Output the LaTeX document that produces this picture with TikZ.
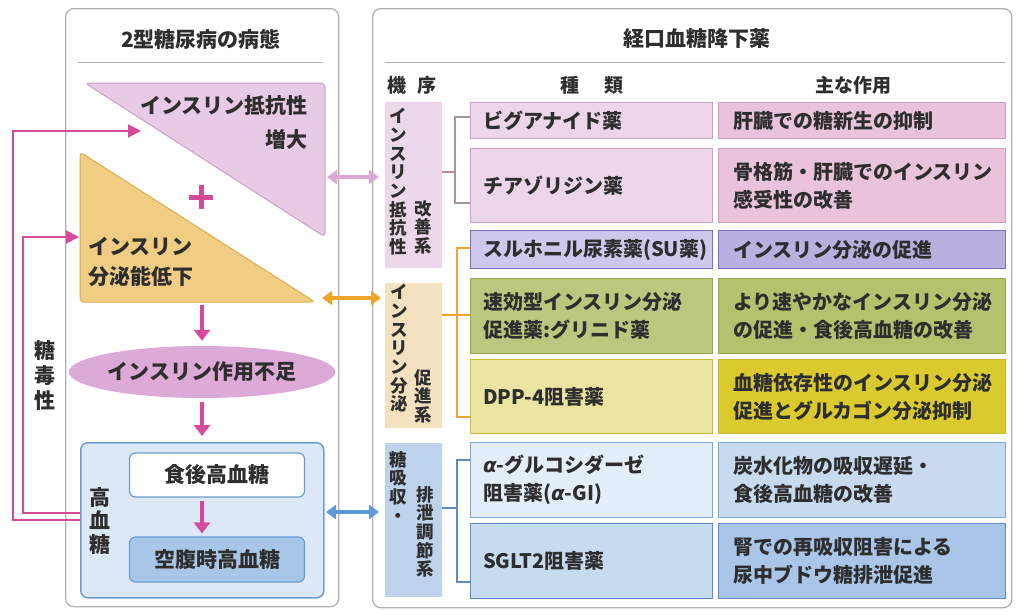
\documentclass[tikz,border=0pt]{standalone}
\usepackage{fontspec}
\setmainfont{Noto Sans CJK JP}
\newfontfamily\grk{DejaVu Sans}
\usetikzlibrary{arrows.meta,shapes.geometric}
\definecolor{panelc}{HTML}{B4AEB0}
\definecolor{mag}{HTML}{D64A9C}
\definecolor{triP}{HTML}{E8CAE4}
\definecolor{triPb}{HTML}{C9A2C6}
\definecolor{triY}{HTML}{F0CD82}
\definecolor{triYb}{HTML}{D9AE4E}
\definecolor{ellc}{HTML}{DDAAD8}
\definecolor{hbF}{HTML}{DCE8F6}
\definecolor{hbB}{HTML}{6C9DD2}
\definecolor{faF}{HTML}{A8C6E8}
\definecolor{mpF}{HTML}{EDD7EA}
\definecolor{mtF}{HTML}{F3E1BF}
\definecolor{mbF}{HTML}{BDD3EC}
\definecolor{pkB}{HTML}{C9A0C3}
\definecolor{pkT}{HTML}{EDD5EA}
\definecolor{pkA}{HTML}{E9C3DC}
\definecolor{suB}{HTML}{7A6FC0}
\definecolor{suT}{HTML}{CEC9EC}
\definecolor{suA}{HTML}{B9B0E0}
\definecolor{glB}{HTML}{94A84C}
\definecolor{glT}{HTML}{B9C87E}
\definecolor{glA}{HTML}{B2C36E}
\definecolor{dpB}{HTML}{C9B938}
\definecolor{dpT}{HTML}{EBE4A0}
\definecolor{dpA}{HTML}{DACA2E}
\definecolor{agB}{HTML}{7EA6D4}
\definecolor{agT}{HTML}{E4EEF9}
\definecolor{agA}{HTML}{C8DAF0}
\definecolor{sgB}{HTML}{5A8CC8}
\definecolor{sgT}{HTML}{C6DAF0}
\definecolor{sgA}{HTML}{A9C5E7}
\definecolor{arP}{HTML}{DDA9D4}
\definecolor{arY}{HTML}{EEA52C}
\definecolor{arB}{HTML}{5E9AD6}
\definecolor{brP}{HTML}{A8949F}
\definecolor{txtc}{HTML}{2E2E2E}
\newcommand\drugrow[8]{%
 \node[tbox, draw=#4, fill=#5, minimum height=#3pt] (t#1) at (470,#2) {};
 \node[abox, draw=#4, fill=#6, minimum height=#3pt] (a#1) at (718,#2) {};
 \node[rtx, anchor=west] (tt#1) at ([xshift=13pt]t#1.west) {#7};
 \node[rtx, anchor=west] (at#1) at ([xshift=15pt]a#1.west) {#8};
}
\begin{document}
\begin{tikzpicture}[x=1pt,y=-1pt,
  every node/.append style={text=txtc},
  panel/.style={draw=panelc, line width=1.3pt, rounded corners=8pt, anchor=north west, inner sep=0pt},
  ttl/.style={font=\fontsize{21}{24}\selectfont\bfseries},
  hdr/.style={font=\fontsize{19}{22}\selectfont\bfseries},
  ltx/.style={font=\fontsize{21}{30}\selectfont\bfseries, inner sep=0pt},
  rtx/.style={font=\fontsize{20}{28}\selectfont\bfseries, align=left, inner sep=0pt},
  tbox/.style={line width=1.4pt, anchor=north west, minimum width=242pt, inner sep=0pt},
  abox/.style={line width=1.4pt, anchor=north west, minimum width=287pt, inner sep=0pt},
  mbox/.style={anchor=north west, minimum width=57pt, inner sep=0pt},
  vt/.style={anchor=north, align=center, inner sep=0pt, font=\fontsize{17.5}{18.7}\selectfont\bfseries},
  marrow/.style={draw=mag, line width=4.5pt, -{Triangle[width=16pt,length=11pt]}},
  fb/.style={draw=mag, line width=2pt, -{Triangle[width=13pt,length=13pt]}},
  dbl/.style={line width=4pt, {Triangle[width=14pt,length=10pt]}-{Triangle[width=14pt,length=10pt]}},
  brk/.style={line width=1.2pt}
]
\useasboundingbox (0,0) rectangle (1017,614);

% ---------- left panel ----------
\node[panel, minimum width=273pt, minimum height=598pt] (lp) at (65,8) {};
\node[ttl] (lt) at (201,39) {2型糖尿病の病態};
\draw[panelc, line width=1pt] (78,62) -- (323,62);

\filldraw[fill=triP, draw=triPb, line width=1pt, rounded corners=4pt] (85,83) -- (325,83) -- (325,237) -- cycle;
\node[ltx, anchor=east] (ir1) at (308,106) {インスリン抵抗性};
\node[ltx, anchor=east] (ir2) at (308,139) {増大};

\filldraw[fill=triY, draw=triYb, line width=1pt, rounded corners=4pt] (80,152) -- (315,302) -- (80,302) -- cycle;
\node[ltx, anchor=west] (is1) at (88,247) {インスリン};
\node[ltx, anchor=west] (is2) at (88,277) {分泌能低下};

\draw[mag, line width=5pt] (189,197) -- (213,197) (201,185) -- (201,209);

\node[ellipse, fill=ellc, minimum width=245pt, minimum height=52pt, ltx] (ell) at (202,372) {インスリン作用不足};
\coordinate (ybot) at (202,305);
\draw[marrow, shorten >=5pt] (ybot) -- (ell.north);

\node[anchor=north west, draw=hbB, fill=hbF, line width=1.5pt, rounded corners=7pt,
      minimum width=243pt, minimum height=155pt, inner sep=0pt] (bb) at (80,442) {};
\draw[marrow, shorten <=4pt, shorten >=6pt] (ell.south) -- (ell.south |- bb.north);

\node[draw=hbB, fill=white, line width=1.2pt, rounded corners=6pt, minimum width=175pt, minimum height=44pt, ltx] (pp) at (217,475) {食後高血糖};
\node[draw=hbB, fill=faF, line width=1.2pt, rounded corners=6pt, minimum width=175pt, minimum height=45pt, ltx] (fa) at (217,559.5) {空腹時高血糖};
\draw[marrow, shorten <=3pt, shorten >=3pt] (pp.south -| ell.south) -- (fa.north -| ell.south);

\node[vt, font=\fontsize{21}{23.5}\selectfont\bfseries] (hg) at (100,487) {高\\血\\糖};

\coordinate (fbo) at (80,520);
\coordinate (fbi) at (80,513);
\coordinate (irin) at (141,131);
\coordinate (isin) at (79,237);
\draw[fb] (fbo) -- (13,520) |- (irin);
\draw[fb] (fbi) -- (23,513) |- (isin);
\node[vt, font=\fontsize{21}{25}\selectfont\bfseries] (tdk) at (45,340) {糖\\毒\\性};

% ---------- right panel ----------
\node[panel, minimum width=639pt, minimum height=599pt] (rp) at (372,8) {};
\node[ttl] (rt) at (697,39) {経口血糖降下薬};
\draw[panelc, line width=1pt] (385,62) -- (1005,62);
\node[hdr] (h1) at (412,85) {機\hspace{0.55em}序};
\node[hdr] (h2) at (592,85) {種\hspace{1.3em}類};
\node[hdr] (h3) at (853,85) {主な作用};

\node[mbox, fill=mpF, minimum height=166pt] (mp) at (385,102) {};
\node[mbox, fill=mtF, minimum height=145pt] (mt) at (385,283) {};
\node[mbox, fill=mbF, minimum height=154pt] (mb) at (385,443) {};

\node[vt] (v1) at (398,108) {イ\\ン\\ス\\リ\\ン\\抵\\抗\\性};
\node[vt] (v2) at (423,200) {改\\善\\系};
\node[vt] (v3) at (399,284) {イ\\ン\\ス\\リ\\ン\\分\\泌};
\node[vt] (v4) at (423,369) {促\\進\\系};
\node[vt] (v5) at (398,451) {糖\\吸\\収\\・};
\node[vt] (v6) at (425,486) {排\\泄\\調\\節\\系};

% brackets (drawn before boxes)
\draw[brk, brP] (mp.east |- 0,172) -- (455,172);
\draw[brk, brP] (470,117) -- (455,117) -- (455,203) -- (470,203);
\draw[brk, arY, line width=1.5pt] (mt.east |- 0,315) -- (470,315);
\draw[brk, arY, line width=1.5pt] (470,248) -- (457,248) -- (457,417) -- (470,417);
\draw[brk, sgB] (mb.east |- 0,508) -- (457,508);
\draw[brk, sgB] (470,460) -- (457,460) -- (457,582) -- (470,582);

\drugrow{1}{102}{36}{pkB}{pkT}{pkA}{ビグアナイド薬}{肝臓での糖新生の抑制}
\drugrow{2}{148}{74}{pkB}{pkT}{pkA}{チアゾリジン薬}{骨格筋・肝臓でのインスリン\\感受性の改善}
\drugrow{3}{230}{38}{suB}{suT}{suA}{スルホニル尿素薬(SU薬)}{インスリン分泌の促進}
\drugrow{4}{278}{75}{glB}{glT}{glA}{速効型インスリン分泌\\促進薬:グリニド薬}{より速やかなインスリン分泌\\の促進・食後高血糖の改善}
\drugrow{5}{359}{74}{dpB}{dpT}{dpA}{DPP-4阻害薬}{血糖依存性のインスリン分泌\\促進とグルカゴン分泌抑制}
\drugrow{6}{442}{75}{agB}{agT}{agA}{{\grk\itshape α}-グルコシダーゼ\\阻害薬({\grk\itshape α}-GI)}{炭水化物の吸収遅延・\\食後高血糖の改善}
\drugrow{7}{523}{75}{sgB}{sgT}{sgA}{SGLT2阻害薬}{腎での再吸収阻害による\\尿中ブドウ糖排泄促進}

% double arrows between panels
\coordinate (p1) at (327,177);
\coordinate (p2) at (322,298);
\coordinate (p3) at (326,512);
\draw[dbl, arP, shorten >=6pt] (p1) -- (p1 -| mp.west);
\draw[dbl, arY, shorten >=4pt] (p2) -- (p2 -| mt.west);
\draw[dbl, arB, shorten >=6pt] (p3) -- (p3 -| mb.west);
\end{tikzpicture}
\end{document}
